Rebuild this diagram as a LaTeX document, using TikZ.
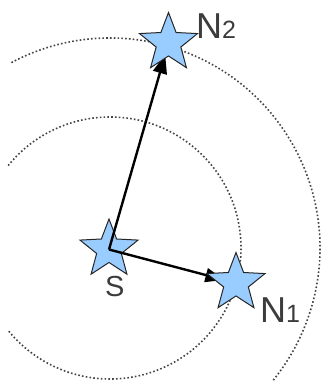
\documentclass[tikz,border=0pt]{standalone}
\usepackage{fontspec}
\setmainfont{Liberation Sans}
\usetikzlibrary{shapes.geometric,arrows.meta}
\definecolor{starblue}{HTML}{99CCFF}
\definecolor{txtgray}{HTML}{3C3C3C}
\definecolor{ringgray}{HTML}{444444}
\tikzset{
  starnode/.style={star, star points=5, star point ratio=2.35, minimum size=61pt,
    inner sep=0pt, fill=starblue, draw=black!85, line width=1pt},
  ring/.style={draw=ringgray, line width=1.6pt, dash pattern=on 1.6pt off 2.2pt},
  link/.style={draw=black, line width=2.4pt, -{Triangle[length=19pt,width=14pt]}},
  lbl/.style={anchor=base west, inner sep=0pt, text=txtgray},
}
\newcommand{\bigN}{\fontsize{36}{36}\selectfont}
\newcommand{\subd}{\fontsize{25}{25}\selectfont}
\begin{document}
\begin{tikzpicture}[x=1pt,y=-1pt]
\useasboundingbox (0,0) rectangle (321,381);
\clip (0,0) rectangle (321,381);
\coordinate (C) at (110,248);
% rings
\draw[ring] (C) ++(-141:131) arc[start angle=-141, end angle=141, radius=131];
\draw[ring] (C) ++(-118:210) arc[start angle=-118, end angle=60, radius=210];
% source star
\node[starnode] (S) at (109,249.5) {};
% links
\node[starnode, draw=none, fill=none] (N2p) at (168.5,43) {};
\node[starnode, draw=none, fill=none] (N1p) at (236,283) {};
\draw[link, shorten >=12pt] (S.center) -- (N2p.center);
\draw[link, shorten >=12pt] (S.center) -- (N1p.center);
% neighbour stars
\node[starnode] (N2) at (168.5,43) {};
\node[starnode] (N1) at (236,283) {};
% labels
\node[lbl] (LS) at (105,296) {\fontsize{29}{29}\selectfont S};
\node[lbl] (LN2) at (196,38) {\bigN N\subd 2};
\node[lbl] (LN1) at (260,322) {\bigN N\subd 1};
\end{tikzpicture}
\end{document}
